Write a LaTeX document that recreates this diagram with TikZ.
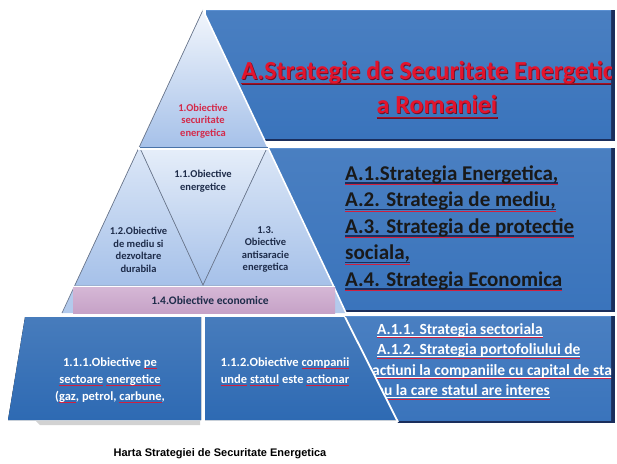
\documentclass[tikz,border=0pt]{standalone}
\usepackage{fontspec}
\setmainfont{Carlito}
\newfontfamily\capfont{Liberation Sans}
\usetikzlibrary{calc}

\definecolor{boxblue}{HTML}{3A74BC}
\definecolor{boxlight}{HTML}{5B90D2}
\definecolor{boxnavy}{HTML}{1A2E5C}
\definecolor{lowblue}{HTML}{2E6AB3}
\definecolor{pyrtop}{HTML}{F2F6FC}
\definecolor{pyrmid}{HTML}{DCE7F7}
\definecolor{pyrbot}{HTML}{A6C1E9}
\definecolor{bandpink}{HTML}{C6A2C7}
\definecolor{bandlight}{HTML}{D6B8D6}
\definecolor{titlered}{HTML}{E3142D}
\definecolor{titleshade}{HTML}{6A1026}
\definecolor{objred}{HTML}{D42A4A}
\definecolor{objnavy}{HTML}{1E2C4A}
\definecolor{edgegray}{HTML}{6F7C93}
\definecolor{squig}{HTML}{D02040}

% underline in a given colour, with a thin spelling mark beneath
\newcommand\ulmark[3]{\setbox0\hbox{#3}%
  \rlap{\color{#1}\rule[-0.17em]{\wd0}{0.07em}}%
  \rlap{\color{#2}\rule[-0.26em]{\wd0}{0.05em}}\box0{}}
\newcommand\ulplain[2]{\setbox0\hbox{#2}%
  \rlap{\color{#1}\rule[-0.17em]{\wd0}{0.07em}}\box0{}}
% thin red spelling mark only
\newcommand\sqm[1]{\setbox0\hbox{#1}%
  \rlap{\color{squig}\rule[-0.2em]{\wd0}{0.06em}}\box0{}}

\newcommand\rightpanel[4]{%
  \fill[boxnavy] (#1,#2) rectangle (#3,#4);
  \fill[top color=boxblue!92!white, bottom color=boxblue] (#1,#2) rectangle (#3-4,#4-3);
  \draw[boxlight, line width=1.2] (#1,#2+0.6) -- (#3-4,#2+0.6);
}

\tikzset{
  titletext/.style={font=\fontsize{26}{31}\bfseries\selectfont, inner sep=0},
  stratline/.style={anchor=base west, text=black!90, font=\fontsize{21}{26}\bfseries\selectfont, inner sep=0},
  subline/.style={anchor=base west, text=white, font=\fontsize{15.5}{20}\bfseries\selectfont, inner sep=0},
  pyrtext/.style={align=center, inner sep=0, font=\fontsize{10.5}{12.5}\bfseries\selectfont},
  lowtext/.style={align=center, inner sep=0, text=white, font=\fontsize{12.5}{17}\bfseries\selectfont},
  layer/.style={top color=pyrmid, bottom color=pyrbot},
  innerline/.style={draw=edgegray, line width=0.7},
}

\begin{document}
\begin{tikzpicture}[x=1pt,y=-1pt]
\useasboundingbox (0,0) rectangle (617,463);
\fill[white] (0,0) rectangle (617,463);

% ---- strategy panels on the right
\rightpanel{206}{10}{615}{141}
\rightpanel{266}{148}{615}{312}
\begin{scope}
  \clip (345,315) -- (616,315) -- (616,424) -- (398.5,424) -- cycle;
  \rightpanel{340}{316}{615}{423}
\end{scope}

\begin{scope}
  \clip (206,10) rectangle (611,138);
  \node[titletext, text=titleshade] at (434.8,73.8) {\ulplain{titleshade}{A.Strategie de Securitate Energetica}};
  \node[titletext, text=titleshade] at (437.8,107.8) {\ulplain{titleshade}{a Romaniei}};
  \node[titletext, text=titlered] (title1) at (434,73) {\ulplain{titlered!75!black}{A.Strategie de Securitate Energetica}};
  \node[titletext, text=titlered] (title2) at (437,107) {\ulplain{titlered!75!black}{a Romaniei}};
\end{scope}

\node[stratline] (s1) at (345,180) {\ulmark{boxnavy}{squig}{A.1.Strategia Energetica,}};
\node[stratline] (s2) at (345,206.5) {\ulmark{boxnavy}{squig}{A.2. Strategia de mediu,}};
\node[stratline] (s3) at (345,233) {\ulmark{boxnavy}{squig}{A.3. Strategia de protectie}};
\node[stratline] (s4) at (345,259.5) {\ulmark{boxnavy}{squig}{sociala,}};
\node[stratline] (s5) at (345,286) {\ulmark{boxnavy}{squig}{A.4. Strategia Economica}};

\begin{scope}
  \clip (340,316) rectangle (611,420);
  \node[subline] (a1) at (377,334) {\ulmark{white}{squig}{A.1.1. Strategia sectoriala}};
  \node[subline] (a2) at (377,354.5) {\ulmark{white}{squig}{A.1.2. Strategia portofoliului de}};
  \node[subline] (a3) at (372,375) {\ulmark{white}{squig}{actiuni la companiile cu capital de stat}};
  \node[subline] (a4) at (370,395.5) {\ulmark{white}{squig}{sau la care statul are interes}};
\end{scope}

% ---- pyramid
\coordinate (apex) at (203,10);
\coordinate (tl) at (139.5,147);
\coordinate (tr) at (267.5,147);
\coordinate (bl) at (75,285);
\coordinate (bm) at (203,285);
\coordinate (br) at (333,285);

% top tier
\fill[top color=pyrtop, bottom color=pyrbot] (apex) -- (tr) -- (tl) -- cycle;
% middle tier, extended a little under the band
\fill[pyrbot!85!white] (bl) -- (br) -- (346,313) -- (62,313) -- cycle;
\fill[layer] (tl) -- (bm) -- (bl) -- cycle;
\fill[top color=pyrmid!70!white, bottom color=pyrbot] (tl) -- (tr) -- (bm) -- cycle;
\fill[layer] (tr) -- (br) -- (bm) -- cycle;

\draw[innerline] (tl) -- (tr);
\draw[innerline] (tl) -- (bm) -- (tr);
\draw[innerline] (apex) -- (bl) -- (62,313);
\draw[white, line width=1.6] (apex) -- (br) -- (346,313);
\draw[white, line width=2.5] (138,148.5) -- (269,148.5);
\draw[boxlight!80!black, line width=0.8] (tl) -- (tr);

% band
\fill[top color=bandlight, bottom color=bandpink] (73,286) rectangle (335,313);
\draw[white, line width=1] (73,286) -- (335,286);

\node[pyrtext, text=objred] (o1) at (203,121) {1.Obiective\\securitate\\energetica};
\node[pyrtext, text=objnavy] (o11) at (203,181) {1.1.Obiective\\energetice};
\node[pyrtext, text=objnavy] (o12) at (138.5,250) {1.2.Obiective\\de mediu si\\dezvoltare\\durabila};
\node[pyrtext, text=objnavy] (o13) at (265.5,249.5) {1.3.\\Obiective\\antisaracie\\energetica};
\node[pyrtext, text=objnavy, font=\fontsize{11.5}{13}\bfseries\selectfont] (o14) at (210,300) {1.4.Obiective economice};

% ---- bottom tier
\fill[gray!35] (36,421) -- (200,421) -- (200,425) -- (40,425) -- cycle;
\fill[top color=lowblue!88!white, bottom color=lowblue] (25,317) -- (201,317) -- (201,420) -- (8,420) -- cycle;
\fill[top color=lowblue!88!white, bottom color=lowblue] (205,317) -- (345,317) -- (397,420) -- (205,420) -- cycle;
\draw[white, line width=1.8] (345,317) -- (398,422);

\node[lowtext] (o111) at (110,380) {1.1.1.Obiective \sqm{pe}\\\sqm{sectoare} \sqm{energetice}\\(\sqm{gaz}, petrol, \sqm{carbune},};
\node[lowtext] (o112) at (285,371.5) {1.1.2.Obiective \sqm{companii}\\\sqm{unde} \sqm{statul} este \sqm{actionar}};

% ---- caption
\node[inner sep=0, font=\capfont\fontsize{11}{13}\bfseries\selectfont] (caption) at (220,454) {Harta Strategiei de Securitate Energetica};
\end{tikzpicture}
\end{document}
